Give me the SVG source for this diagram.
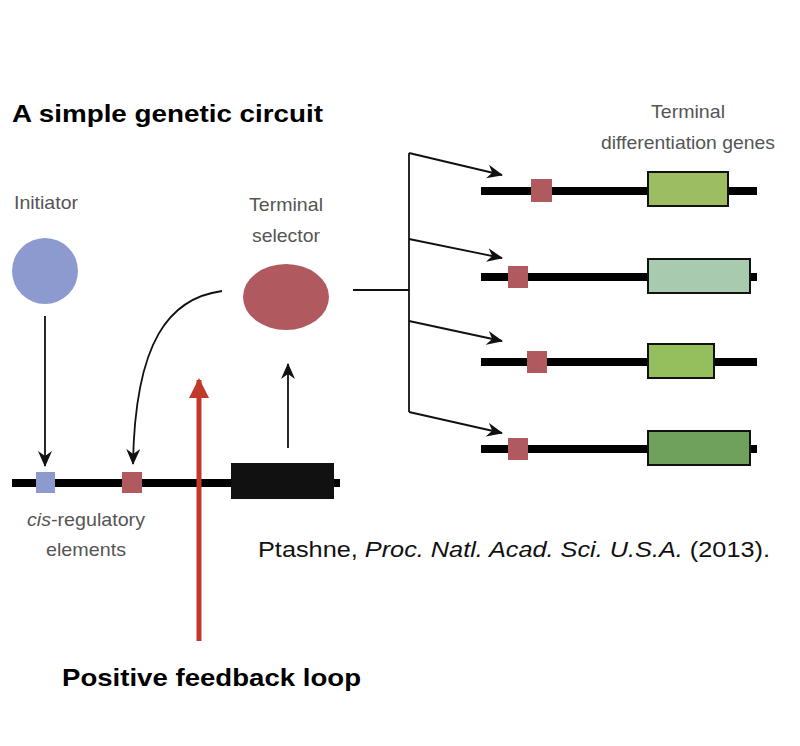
<svg xmlns="http://www.w3.org/2000/svg" width="800" height="746" viewBox="0 0 800 746">
<style>
.lbl{font-family:"Liberation Sans",Arial,sans-serif;font-size:19px;fill:#555}
.ttl{font-family:"Liberation Sans",Arial,sans-serif;font-weight:bold;font-size:24px;fill:#000}
.dna{stroke:#000;stroke-width:8}
.ar{stroke:#111;stroke-width:1.8;fill:none}
.cre{fill:#b05a60}
.gene{stroke:#111;stroke-width:2}
</style>
<defs>
<marker id="ah" viewBox="0 0 16 14" refX="15" refY="7" markerWidth="16" markerHeight="14" markerUnits="userSpaceOnUse" orient="auto"><path d="M0,0 L16,7 L0,14 L5,7 Z" fill="#111"/></marker>
<marker id="rh" viewBox="0 0 20 20" refX="18" refY="10" markerWidth="20" markerHeight="20" markerUnits="userSpaceOnUse" orient="auto"><path d="M0,0 L20,10 L0,20 Z" fill="#c0392b"/></marker>
</defs>
<rect width="800" height="746" fill="#fff"/>
<text class="ttl" x="12" y="122" textLength="311" lengthAdjust="spacingAndGlyphs">A simple genetic circuit</text>
<text class="lbl" x="14" y="209" textLength="64" lengthAdjust="spacingAndGlyphs">Initiator</text>
<text class="lbl" x="286" y="211" text-anchor="middle" textLength="74" lengthAdjust="spacingAndGlyphs">Terminal</text>
<text class="lbl" x="286" y="242" text-anchor="middle" textLength="68" lengthAdjust="spacingAndGlyphs">selector</text>
<text class="lbl" x="688" y="118" text-anchor="middle" textLength="74" lengthAdjust="spacingAndGlyphs">Terminal</text>
<text class="lbl" x="688" y="149" text-anchor="middle" textLength="174" lengthAdjust="spacingAndGlyphs">differentiation genes</text>
<text class="lbl" x="86" y="526" text-anchor="middle" textLength="118" lengthAdjust="spacingAndGlyphs"><tspan font-style="italic">cis</tspan>-regulatory</text>
<text class="lbl" x="86" y="556" text-anchor="middle" textLength="80" lengthAdjust="spacingAndGlyphs">elements</text>
<text x="258" y="557" textLength="512" lengthAdjust="spacingAndGlyphs" style="font-family:'Liberation Sans',Arial,sans-serif;font-size:22px;fill:#111">Ptashne, <tspan font-style="italic">Proc. Natl. Acad. Sci. U.S.A.</tspan>  (2013).</text>
<text class="ttl" x="62" y="686" textLength="299" lengthAdjust="spacingAndGlyphs">Positive feedback loop</text>

<g id="initiator"><circle cx="45" cy="271" r="33" fill="#8c9ad0"/></g>
<g id="selector"><ellipse cx="286" cy="297" rx="43" ry="33" fill="#b05a60"/></g>
<g id="locus">
<line class="dna" x1="12" y1="483" x2="340" y2="483"/>
<rect x="36" y="472" width="19" height="21" fill="#8c9ad0"/>
<rect class="cre" x="122" y="472" width="20" height="21"/>
<rect x="231" y="463" width="103" height="36" fill="#111"/>
</g>
<g id="gene1"><line class="dna" x1="481" y1="191" x2="757" y2="191"/><rect class="cre" x="531" y="179" width="21" height="23"/><rect class="gene" x="648" y="172" width="80" height="34" fill="#9cbd60"/></g>
<g id="gene2"><line class="dna" x1="481" y1="277" x2="757" y2="277"/><rect class="cre" x="508" y="266" width="20" height="22"/><rect class="gene" x="648" y="259" width="102" height="34" fill="#a8cbb0"/></g>
<g id="gene3"><line class="dna" x1="481" y1="362" x2="757" y2="362"/><rect class="cre" x="527" y="351" width="20" height="22"/><rect class="gene" x="648" y="344" width="66" height="34" fill="#94bf5c"/></g>
<g id="gene4"><line class="dna" x1="481" y1="449" x2="757" y2="449"/><rect class="cre" x="508" y="438" width="20" height="22"/><rect class="gene" x="648" y="431" width="102" height="34" fill="#6fa05c"/></g>

<g id="connectors">
<line class="ar" x1="45" y1="316" x2="45" y2="466" marker-end="url(#ah)"/>
<path class="ar" d="M222,291 C170,298 135,340 133,464" marker-end="url(#ah)"/>
<line class="ar" x1="288" y1="448" x2="288" y2="364" marker-end="url(#ah)"/>
<line class="ar" x1="353" y1="290" x2="409" y2="290"/>
<line class="ar" x1="409" y1="153" x2="409" y2="412"/>
<line class="ar" x1="409" y1="153" x2="502" y2="175" marker-end="url(#ah)"/>
<line class="ar" x1="409" y1="239" x2="502" y2="258" marker-end="url(#ah)"/>
<line class="ar" x1="409" y1="321" x2="502" y2="341" marker-end="url(#ah)"/>
<line class="ar" x1="409" y1="412" x2="502" y2="433" marker-end="url(#ah)"/>
<line x1="199" y1="641" x2="199" y2="380" stroke="#c0392b" stroke-width="5" marker-end="url(#rh)"/>
</g>
</svg>
